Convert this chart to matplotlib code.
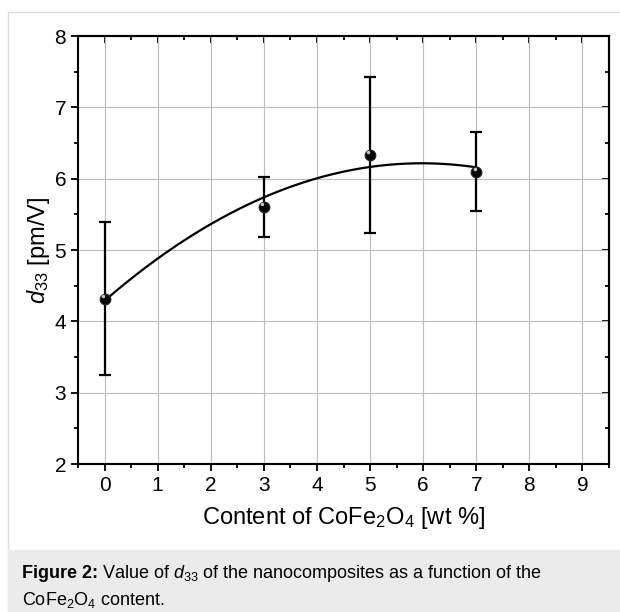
import numpy as np
import matplotlib
matplotlib.use("Agg")
import matplotlib.pyplot as plt
from matplotlib.patches import Rectangle
from matplotlib.ticker import MultipleLocator

plt.rcParams['font.family'] = ['Liberation Sans', 'DejaVu Sans']
plt.rcParams['mathtext.fontset'] = 'custom'
plt.rcParams['mathtext.rm'] = 'Liberation Sans'
plt.rcParams['mathtext.it'] = 'Liberation Sans:italic'
plt.rcParams['mathtext.bf'] = 'Liberation Sans:bold'

# Measured data
content = [0, 3, 5, 7]
d33 = [4.32, 5.60, 6.33, 6.10]
err_low = [1.07, 0.42, 1.09, 0.55]
err_high = [1.07, 0.43, 1.10, 0.56]
xticks = [0, 1, 2, 3, 4, 5, 6, 7, 8, 9]
yticks = [2, 3, 4, 5, 6, 7, 8]

fig = plt.figure(figsize=(6.2, 6.12), dpi=100)

# panel frame and caption box
fig.patches.append(Rectangle((8/620, 0), 1, 1 - 12/612, transform=fig.transFigure,
                             facecolor='white', edgecolor='#dcdcdc', linewidth=1.0, zorder=-2))
fig.patches.append(Rectangle((8/620, 0), 1, 62/612, transform=fig.transFigure,
                             facecolor='#ebebeb', edgecolor='none', zorder=-1))

ax = fig.add_axes([78/620, 1 - 464/612, 531/620, 428/612])

# quadratic fit through the points
coef = np.polyfit(content, d33, 2)
xf = np.linspace(0, 7, 200)
ax.plot(xf, np.polyval(coef, xf), color='black', lw=1.6, zorder=3)

ax.errorbar(content, d33, yerr=[err_low, err_high], fmt='none', ecolor='black',
            elinewidth=1.6, capsize=4, capthick=1.6, zorder=4)
ax.plot(content, d33, 'o', ms=7.5, mfc='black', mec='#222222', zorder=5)
ax.plot(np.array(content) - 0.03, np.array(d33) + 0.04, 'o', ms=2.5,
        mfc='#c8c8c8', mec='none', zorder=6)

ax.set_xlim(-0.5, 9.5)
ax.set_ylim(2, 8)
ax.set_xticks(xticks)
ax.set_yticks(yticks)
ax.xaxis.set_minor_locator(MultipleLocator(0.5))
ax.yaxis.set_minor_locator(MultipleLocator(0.5))
ax.grid(True, which='major', color='#bdbdbd', lw=0.8)
ax.set_axisbelow(True)

for s in ax.spines.values():
    s.set_linewidth(1.5)
ax.tick_params(which='both', direction='out', width=1.3, labelsize=15)
ax.tick_params(which='major', length=5)
ax.tick_params(which='minor', length=3)

# top and right: ticks pointing inward, no labels
top = ax.secondary_xaxis('top')
top.set_xticks(xticks)
top.xaxis.set_minor_locator(MultipleLocator(0.5))
top.tick_params(which='both', direction='in', width=1.3, labeltop=False)
top.tick_params(which='major', length=5)
top.tick_params(which='minor', length=3)
right = ax.secondary_yaxis('right')
right.set_yticks(yticks)
right.yaxis.set_minor_locator(MultipleLocator(0.5))
right.tick_params(which='both', direction='in', width=1.3, labelright=False)
right.tick_params(which='major', length=5)
right.tick_params(which='minor', length=3)
for sec in (top, right):
    for s in sec.spines.values():
        s.set_linewidth(1.5)

ax.set_xlabel('Content of CoFe$_2$O$_4$ [wt %]', fontsize=17, labelpad=7)
ax.set_ylabel('$d_{33}$ [pm/V]', fontsize=17, labelpad=2)

# caption
cap_y1 = 1 - 573/612
cap_y2 = 1 - 600/612
t_bold = fig.text(22/620, cap_y1, 'Figure 2:', fontsize=13, fontweight='bold', va='center')
renderer = fig.canvas.get_renderer()
bb = t_bold.get_window_extent(renderer=renderer)
fig.text(bb.x1 / fig.bbox.width + 4/620, cap_y1,
         'Value of $d_{33}$ of the nanocomposites as a function of the',
         fontsize=13, va='center')
fig.text(22/620, cap_y2, 'CoFe$_2$O$_4$ content.', fontsize=13, va='center')

fig.savefig('out.png', dpi=100)
